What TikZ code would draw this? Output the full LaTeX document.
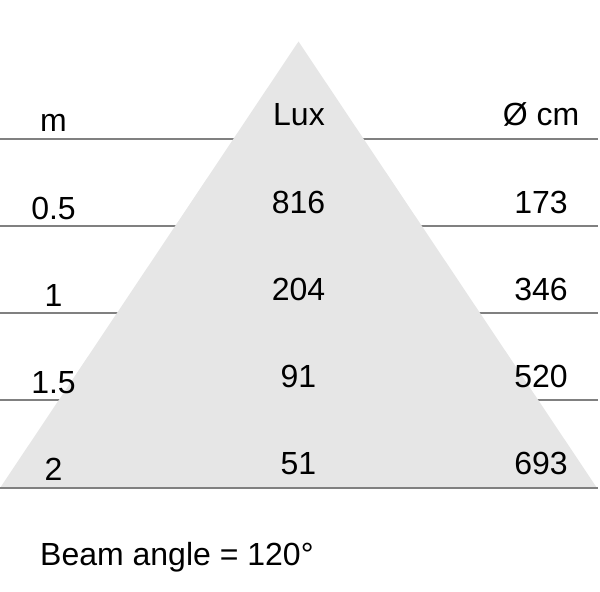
\documentclass[tikz,border=0pt]{standalone}
\usepackage{fontspec}
\setmainfont{Liberation Sans}
\definecolor{beam}{HTML}{E6E6E6}
\definecolor{rule}{HTML}{808080}
\begin{document}
\begin{tikzpicture}[x=1bp,y=-1bp,
  lbl/.style={anchor=base,inner sep=0pt,font=\fontsize{32bp}{38bp}\selectfont},
  hline/.style={draw=rule,line width=2bp}]
\useasboundingbox (0,0) rectangle (600,592);
% horizontal rules
\foreach \y in {139,226,313,400}{
  \draw[hline] (0,\y) -- (598,\y);
}
% beam triangle
\coordinate (apex) at (298.5,41.5);
\coordinate (bl) at (0,488);
\coordinate (br) at (597,488);
\fill[beam] (apex) -- (bl) -- (br) -- cycle;
\coordinate (l5) at (0,488);
\coordinate (r5) at (598,488);
\draw[hline] (l5) -- (r5);
% header
\node[lbl] (hm) at (53.5,132) {m};
\node[lbl] (hlux) at (299,126) {Lux};
\node[lbl] (hcm) at (541,126) {Ø cm};
% rows
\node[lbl] (m1) at (53.5,219) {0.5};
\node[lbl] (lux1) at (298.5,213) {816};
\node[lbl] (cm1) at (541,213) {173};
\node[lbl] (m2) at (53.5,306) {1};
\node[lbl] (lux2) at (298.5,300) {204};
\node[lbl] (cm2) at (541,300) {346};
\node[lbl] (m3) at (53.5,393) {1.5};
\node[lbl] (lux3) at (298.5,387) {91};
\node[lbl] (cm3) at (541,387) {520};
\node[lbl] (m4) at (53.5,480) {2};
\node[lbl] (lux4) at (298.5,474) {51};
\node[lbl] (cm4) at (541,474) {693};
% caption
\node[lbl,anchor=base west] (cap) at (40,565) {Beam angle = 120°};
\end{tikzpicture}
\end{document}
